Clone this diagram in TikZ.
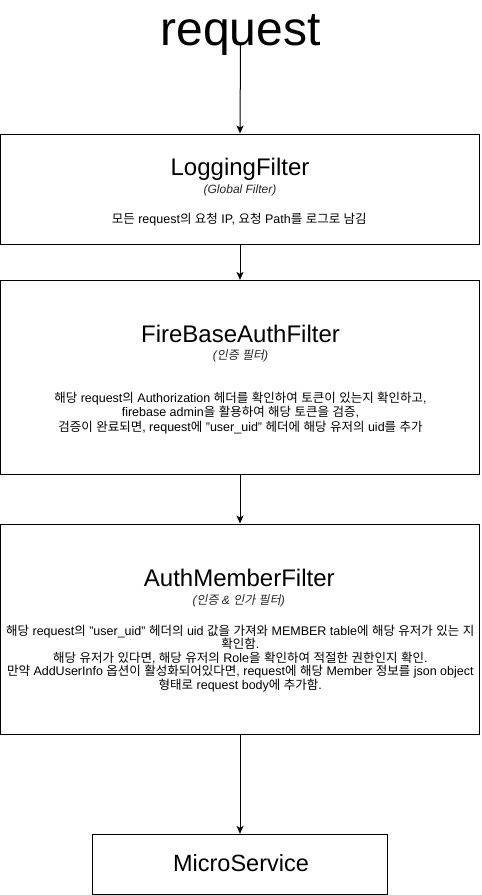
\documentclass[tikz,border=0pt]{standalone}
\usepackage{fontspec}
\setmainfont{Liberation Sans}
\newfontfamily\krfont{Noto Sans CJK KR}
\newfontfamily\kritfont{Noto Sans CJK KR}[FakeSlant=0.2]
\usetikzlibrary{arrows.meta}
% automatic Hangul font switching
\XeTeXinterchartokenstate=1
\chardef\hangulclass=10
\newcount\hgc
\hgc="AC00
\loop
  \XeTeXcharclass\hgc=\hangulclass
  \advance\hgc by 1
\ifnum\hgc<"D7A4 \repeat
\def\krcur{\krfont}
\def\lacur{\normalfont}
\XeTeXinterchartoks 0 \hangulclass = {\krcur}
\XeTeXinterchartoks 4095 \hangulclass = {\krcur}
\XeTeXinterchartoks \hangulclass 0 = {\lacur}
\XeTeXinterchartoks \hangulclass 4095 = {\lacur}
\tikzset{
  filterbox/.style={draw=black, line width=1pt, fill=white, inner sep=0pt},
  flow/.style={draw=black, line width=1pt, -{Stealth[length=8pt,width=7pt,inset=2pt]}},
  titletext/.style={inner sep=0pt, anchor=base, font=\fontsize{24}{28}\selectfont},
  subtext/.style={inner sep=0pt, anchor=base, text=black!85,
    font=\fontsize{12}{14}\selectfont\itshape\def\krcur{\kritfont}\def\lacur{\normalfont\itshape}},
  bodytext/.style={inner sep=0pt, anchor=base, align=center},
  linetext/.style={inner sep=0pt, anchor=base},
}
\begin{document}
\begin{tikzpicture}[x=1pt,y=-1pt]
\useasboundingbox (0,0) rectangle (482,895);
% boxes
\node[filterbox, minimum width=479pt, minimum height=110pt] (log) at (240,189) {};
\node[filterbox, minimum width=479pt, minimum height=194pt] (fba) at (240,377.4) {};
\node[filterbox, minimum width=479pt, minimum height=210pt] (amf) at (240,629) {};
\node[filterbox, minimum width=294.6pt, minimum height=59.7pt] (ms) at (240,864.2) {};
% request
\node[inner sep=0pt, anchor=base, text depth=0pt, font=\fontsize{48}{56}\selectfont] (req) at (240.5,45) {request};
% texts
\node[titletext] (logt) at (240,175.7) {LoggingFilter};
\node[subtext] (logs) at (240,193.3) {(Global Filter)};
\node[linetext, font=\fontsize{12.5}{14.6}\selectfont] (logb) at (239.3,223) {모든 request의 요청 IP, 요청 Path를 로그로 남김};

\node[titletext] (fbat) at (240.5,342.3) {FireBaseAuthFilter};
\node[subtext] (fbas) at (240.5,359.3) {(인증 필터)};
\node[bodytext, font=\fontsize{12.5}{14.6}\selectfont] (fbab) at (240.5,431.3) {해당 request의 Authorization 헤더를 확인하여 토큰이 있는지 확인하고,\\firebase admin을 활용하여 해당 토큰을 검증,\\검증이 완료되면, request에 "user\_uid" 헤더에 해당 유저의 uid를 추가};

\node[titletext] (amft) at (239.3,586) {AuthMemberFilter};
\node[subtext] (amfs) at (238.7,604) {(인증 \& 인가 필터)};
\node[bodytext, font=\fontsize{12.5}{13.4}\selectfont] (amfb) at (240.3,689) {해당 request의 "user\_uid" 헤더의 uid 값을 가져와 MEMBER table에 해당 유저가 있는 지\\확인함.\\해당 유저가 있다면, 해당 유저의 Role을 확인하여 적절한 권한인지 확인.\\만약 AddUserInfo 옵션이 활성화되어있다면, request에 해당 Member 정보를 json object\\형태로 request body에 추가함.};

\node[titletext, font=\fontsize{23.5}{28}\selectfont] (mst) at (241,871.7) {MicroService};
% connectors
\draw[flow] (req.south) -- (log.north);
\draw[flow] (log.south) -- (fba.north);
\draw[flow] (fba.south) -- (amf.north);
\draw[flow] (amf.south) -- (ms.north);
\end{tikzpicture}
\end{document}
